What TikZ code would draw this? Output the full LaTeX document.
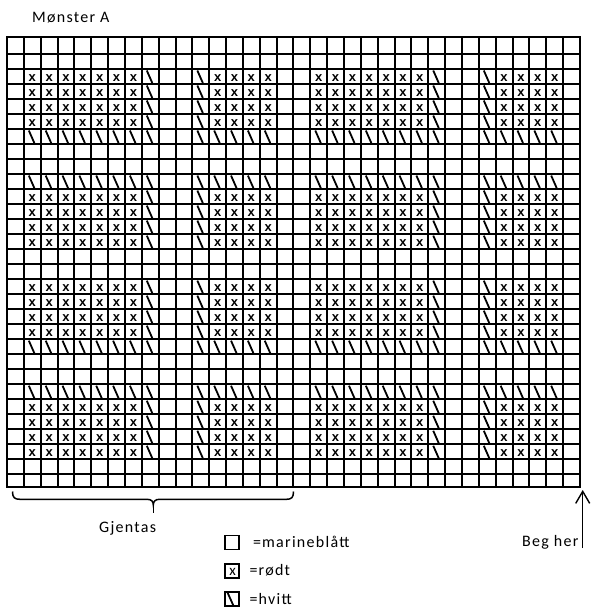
\documentclass[tikz,border=0pt]{standalone}
\usepackage{fontspec}
\setmainfont{Carlito}[LetterSpace=8]
\newfontfamily\chartfont{Liberation Sans}
\usetikzlibrary{arrows.meta, positioning}

% one chart cell: column #1, row #2 (rows counted from the top)
\newcommand{\xcell}[2]{\node[xmark] at ({7+16.85*(#1-0.5)},{54+15.01*(#2-1)-2.4}) {x};}
\newcommand{\slcell}[2]{\draw[slash] ({7+16.85*(#1-1)+5},{54+15.01*(#2-2)+1.5}) -- ({7+16.85*(#1-1)+10.5},{54+15.01*(#2-1)-1});}

\begin{document}
\begin{tikzpicture}[x=1pt, y=-1pt,
  gridline/.style={line width=2pt},
  xmark/.style={anchor=base, inner sep=0pt, font=\chartfont\fontsize{13}{14}\selectfont\bfseries},
  slash/.style={line width=1.8pt},
  label/.style={anchor=base west, inner sep=0pt, font=\fontsize{16}{19}\selectfont},
  legendbox/.style={draw, line width=1.8pt, minimum width=13.4pt, minimum height=14pt, inner sep=0pt},
]
  \useasboundingbox (0,0) rectangle (590,609);

  \node[label] (title) at (32,22.3) {Mønster A};

  % chart grid
  \foreach \k in {1,...,29}
    \draw[gridline] (7,{54+15.01*(\k-1)}) -- (580,{54+15.01*(\k-1)});
  \foreach \c in {1,...,33}
    \draw[gridline] ({7+16.85*\c},37.5) -- ({7+16.85*\c},487);
  \draw[gridline] (7,37.5) rectangle (580,487);

  % pattern, two repeats of 17 stitches
  \foreach \o in {0,17} {
    \foreach \r in {3,4,5,6,11,12,13,14,17,18,19,20,25,26,27,28} {
      \foreach \c in {2,3,4,5,6,7,8,13,14,15,16} {\xcell{\c+\o}{\r}}
      \foreach \c in {9,12} {\slcell{\c+\o}{\r}}
    }
    \foreach \r in {7,10,21,24} {
      \foreach \c in {2,3,4,5,6,7,8,9,12,13,14,15,16} {\slcell{\c+\o}{\r}}
    }
  }

  % repeat brace
  \coordinate (gl) at (12.5,491.5);
  \coordinate (gr) at (293.5,491.5);
  \coordinate (gmid) at (153.3,505);
  \coordinate (gtip) at (153.3,513);
  \draw[line width=1.5pt] (gl) .. controls (12.5,497.5) and (14.5,499.3) .. (20,499.3) -- (147,499.3)
    .. controls (151.5,499.3) and (153.3,501.5) .. (gmid)
    .. controls (153.3,501.5) and (155.1,499.3) .. (159.6,499.3) -- (286.5,499.3)
    .. controls (291.5,499.3) and (293.5,497.5) .. (gr);
  \draw[line width=1.5pt] (gmid) -- (gtip);
  \node[label] (gjentas) at (99,532) {Gjentas};

  % start arrow
  \node[label] (beg) at (522,546) {Beg her};
  \coordinate (begfoot) at (582.7,548);
  \coordinate (begtop) at (582.7,490);
  \draw[-{Straight Barb[length=12pt,width=14pt]}, line width=1.4pt] (begfoot) -- (begtop);

  % legend
  \node[legendbox] (navy) at (232,542.5) {};
  \node[label] (navytext) at (253,547) {=\kern1pt marineblått};
  \node[legendbox] (red) at (232,571) {};
  \node[anchor=base, inner sep=0pt, font=\fontsize{15}{17}\selectfont] at (232.5,575.5) {x};
  \node[label] (redtext) at (249.5,575) {=\kern1pt rødt};
  \node[legendbox] (white) at (232,599) {};
  \draw[slash] ([shift={(3.3,1.8)}]white.north west) -- ([shift={(9.3,-0.6)}]white.south west);
  \node[label] (whitetext) at (249.5,604) {=\kern1pt hvitt};
\end{tikzpicture}
\end{document}
